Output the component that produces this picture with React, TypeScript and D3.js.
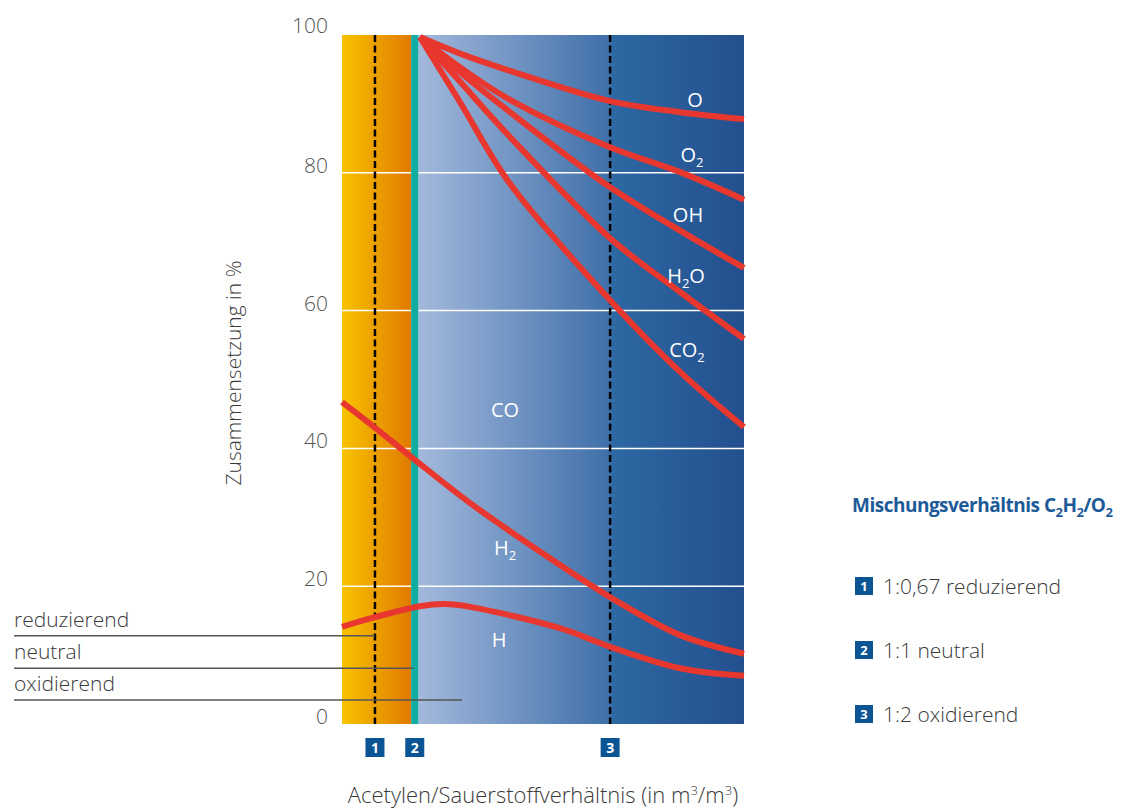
import React from "react";
import * as d3 from "d3";

// ---- data ----
const yTicks = [0, 20, 40, 60, 80, 100];
const gridValues = [20, 40, 60, 80];

// x positions in relative units (0..100 across plot)
const fanX = [19.4, 29.4, 41.8, 66.7, 84.1, 100];
const seriesO = [99.7, 97.3, 94.8, 90.4, 88.8, 87.8];
const seriesO2 = [99.7, 95.3, 90.6, 83.7, 80.1, 76.1];
const seriesOH = [99.7, 94.6, 88.8, 77.9, 71.6, 66.2];
const seriesH2O = [99.7, 93.2, 85.2, 70.5, 62.7, 55.9];
const seriesCO2 = [99.7, 90.2, 78.4, 61.5, 51.1, 43.1];

const coX = [0, 8.2, 18.2, 31.8, 49.3, 66.7, 84.1, 100];
const seriesCO = [46.7, 43.0, 38.3, 32.1, 25.0, 18.4, 12.9, 10.2];

const hX = [0, 8.2, 19.4, 25.6, 31.8, 54.2, 66.7, 84.1, 100];
const seriesH = [14.1, 15.5, 17.1, 17.4, 17.0, 13.9, 11.2, 8.1, 7.0];

const markerX = [8.2, 18.1, 66.7];
const markerLabels = ["1", "2", "3"];
const dashedX = [8.2, 66.7];
const tealBand = [17.2, 19.0];

const flameLabels = ["reduzierend", "neutral", "oxidierend"];
const flameLineY = [12.8, 8.1, 3.5];
const flameLineEndX = [8.2, 17.8, 29.9];

const legendItems = ["1:0,67 reduzierend", "1:1 neutral", "1:2 oxidierend"];

const FONT = "'Open Sans', 'Noto Sans', sans-serif";
const BOLDFONT = "'Open Sans', 'Noto Sans', sans-serif";
const RED = "#e8372e";
const BLUE_MARK = "#0b5594";
const TEXT = "#3a3a3a";

export default function App() {
  const W = 1135, H = 812;
  const x = d3.scaleLinear().domain([0, 100]).range([342, 744]);
  const y = d3.scaleLinear().domain([0, 100]).range([724, 35]);

  const line = d3
    .line<[number, number]>()
    .x((d) => x(d[0]))
    .y((d) => y(d[1]))
    .curve(d3.curveCatmullRom.alpha(0.5));

  const fan = [seriesO, seriesO2, seriesOH, seriesH2O, seriesCO2];
  const fanPaths = fan.map((s) => line(fanX.map((xv, i) => [xv, s[i]] as [number, number])) || "");
  const coPath = line(coX.map((xv, i) => [xv, seriesCO[i]] as [number, number])) || "";
  const hPath = line(hX.map((xv, i) => [xv, seriesH[i]] as [number, number])) || "";

  const top = y(100), bottom = y(0);
  const sub = (t: string) => (
    <tspan fontSize="13" dy="5">{t}</tspan>
  );

  return (
    <div style={{ position: "absolute", left: 0, top: 0 }}>
      <svg width={W} height={H} style={{ display: "block" }}>
        <defs>
          <linearGradient id="orange" x1="0" x2="1" y1="0" y2="0">
            <stop offset="0" stopColor="#f8c300" />
            <stop offset="1" stopColor="#e07a00" />
          </linearGradient>
          <linearGradient id="blue" x1="0" x2="1" y1="0" y2="0">
            <stop offset="0" stopColor="#a3b9dc" />
            <stop offset="0.58" stopColor="#4070aa" />
            <stop offset="0.6" stopColor="#2d68a3" />
            <stop offset="1" stopColor="#244f8e" />
          </linearGradient>
        </defs>

        {/* backgrounds */}
        <rect x={x(0)} y={top} width={x(tealBand[0]) - x(0)} height={bottom - top} fill="url(#orange)" />
        <rect x={x(tealBand[1])} y={top} width={x(100) - x(tealBand[1])} height={bottom - top} fill="url(#blue)" />

        {/* grid */}
        {gridValues.map((v) => (
          <line key={v} x1={x(0)} x2={x(100)} y1={y(v)} y2={y(v)} stroke="#ffffff" strokeWidth={1.5} />
        ))}

        {/* teal band */}
        <rect x={x(tealBand[0])} y={top} width={x(tealBand[1]) - x(tealBand[0])} height={bottom - top} fill="#12ada0" />

        {/* dashed lines */}
        {dashedX.map((d) => (
          <line key={d} x1={x(d)} x2={x(d)} y1={top} y2={bottom} stroke="#000" strokeWidth={2.5} strokeDasharray="7,3.5" />
        ))}

        {/* curves */}
        {fanPaths.map((p, i) => (
          <path key={i} d={p} fill="none" stroke={RED} strokeWidth={6} strokeLinecap="butt" />
        ))}
        <path d={coPath} fill="none" stroke={RED} strokeWidth={6} />
        <path d={hPath} fill="none" stroke={RED} strokeWidth={6} />

        {/* curve labels */}
        <g fill="#fff" fontFamily={FONT} fontSize="20" textAnchor="middle">
          <text x={695} y={107}>O</text>
          <text x={692} y={162}>O{sub("2")}</text>
          <text x={688} y={222}>OH</text>
          <text x={686} y={283}>H{sub("2")}<tspan dy="-5" fontSize="20">O</tspan></text>
          <text x={687} y={357}>CO{sub("2")}</text>
          <text x={505} y={417}>CO</text>
          <text x={505} y={555}>H{sub("2")}</text>
          <text x={499} y={647}>H</text>
        </g>

        {/* y ticks */}
        <g fontFamily={FONT} fontWeight="300" fontSize="21" fill="#555" textAnchor="end">
          {yTicks.map((t) => (
            <text key={t} x={328} y={y(t) - (t === 100 ? 2 : 0)}>{t}</text>
          ))}
        </g>

        {/* flame type annotations */}
        <g fontFamily={FONT} fontWeight="300" fontSize="21" fill={TEXT}>
          {flameLabels.map((l, i) => (
            <g key={l}>
              <text x={14} y={y(flameLineY[i]) - 9}>{l}</text>
              <line x1={14} x2={x(flameLineEndX[i])} y1={y(flameLineY[i])} y2={y(flameLineY[i])} stroke="#555" strokeWidth={1.5} />
            </g>
          ))}
        </g>

        {/* markers below */}
        {markerX.map((m, i) => (
          <g key={i}>
            <rect x={x(m) - 9.5} y={738} width={19} height={19} fill={BLUE_MARK} />
            <text x={x(m)} y={753} fill="#fff" fontFamily={BOLDFONT} fontWeight="bold" fontSize="14" textAnchor="middle">
              {markerLabels[i]}
            </text>
          </g>
        ))}

        {/* axis titles */}
        <text x={543} y={803} fontFamily={FONT} fontWeight="300" fontSize="22" fill={TEXT} textAnchor="middle">
          Acetylen/Sauerstoffverhältnis (in m<tspan fontSize="13" dy="-8">3</tspan>
          <tspan dy="8">/m</tspan>
          <tspan fontSize="13" dy="-8">3</tspan>
          <tspan dy="8">)</tspan>
        </text>
        <text transform="translate(241,373) rotate(-90)" fontFamily={FONT} fontWeight="300" fontSize="21" fill={TEXT} textAnchor="middle">
          Zusammensetzung in %
        </text>

        {/* legend */}
        <text x={852} y={512} fontFamily={BOLDFONT} fontWeight="700" fontSize="19" letterSpacing="-0.5" fill="#1d5b98">
          Mischungsverhältnis C{sub("2")}<tspan dy="-5">H</tspan>{sub("2")}<tspan dy="-5">/O</tspan>{sub("2")}
        </text>
        {legendItems.map((l, i) => (
          <g key={l}>
            <rect x={855} y={577 + i * 64} width={18} height={18} fill={BLUE_MARK} />
            <text x={864} y={591 + i * 64} fill="#fff" fontFamily={BOLDFONT} fontWeight="bold" fontSize="13" textAnchor="middle">
              {markerLabels[i]}
            </text>
            <text x={883} y={594 + i * 64} fontFamily={FONT} fontWeight="300" fontSize="21" fill={TEXT}>{l}</text>
          </g>
        ))}
      </svg>
    </div>
  );
}
